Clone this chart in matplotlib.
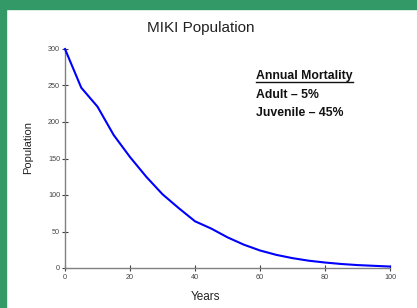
import matplotlib
matplotlib.use("Agg")
import matplotlib.pyplot as plt
from matplotlib.patches import Rectangle

plt.rcParams['font.family'] = ['Liberation Sans', 'DejaVu Sans']

years = [0, 5, 10, 15, 20, 25, 30, 35, 40, 45, 50, 55, 60, 65, 70, 75, 80, 85, 90, 95, 100]
population = [300, 247, 221, 182, 152, 125, 101, 82, 64, 54, 42, 32, 24, 18, 13.5, 10, 7.5, 5.5, 4, 3, 2]
x_ticks = [0, 20, 40, 60, 80, 100]
y_ticks = [0, 50, 100, 150, 200, 250, 300]

W, H = 417, 308
fig = plt.figure(figsize=(W / 100, H / 100), dpi=100)
fig.patch.set_facecolor('white')
green = '#339966'
fig.patches.append(Rectangle((0, 1 - 9 / H), 1, 9 / H, transform=fig.transFigure, color=green, zorder=0))
fig.patches.append(Rectangle((0, 0), 6 / W, 1, transform=fig.transFigure, color=green, zorder=0))

ax = fig.add_axes([65 / W, 1 - 268 / H, 325 / W, 219 / H])
ax.plot(years, population, color='#0000ff', lw=1.5, clip_on=False, zorder=3)
ax.set_xlim(0, 100)
ax.set_ylim(0, 300)
ax.set_xticks(x_ticks)
ax.set_yticks(y_ticks)
for s in ['top', 'right']:
    ax.spines[s].set_visible(False)
for s in ['left', 'bottom']:
    ax.spines[s].set_color('#808080')
    ax.spines[s].set_linewidth(1.0)
ax.tick_params(axis='both', direction='inout', length=5, width=0.8, color='#404040',
               labelsize=5.2, labelcolor='#444444')
ax.tick_params(axis='x', pad=2)
ax.tick_params(axis='y', pad=1)

fig.text(28 / W, 1 - 147 / H, 'Population', ha='center', va='center', rotation=90,
         fontsize=8, color='#222222')
fig.text(205 / W, 1 - 297 / H, 'Years', ha='center', va='center', fontsize=8.5, color='#222222')

fig.text(201 / W, 1 - 28 / H, 'MIKI Population', ha='center', va='center', fontsize=11, color='#222222')
fig.text(256 / W, 1 - 76.5 / H, 'Annual Mortality', ha='left', va='center', fontsize=8.8, fontweight='bold',
         color='#111111')
fig.add_artist(plt.Line2D([256 / W, 353 / W], [1 - 82.5 / H, 1 - 82.5 / H], color='#111111', lw=1.0))
fig.text(256 / W, 1 - 95 / H, 'Adult \u2013 5%', ha='left', va='center', fontsize=8.8, fontweight='bold',
         color='#111111')
fig.text(256 / W, 1 - 113 / H, 'Juvenile \u2013 45%', ha='left', va='center', fontsize=8.8, fontweight='bold',
         color='#111111')

fig.savefig('out.png', dpi=100)
